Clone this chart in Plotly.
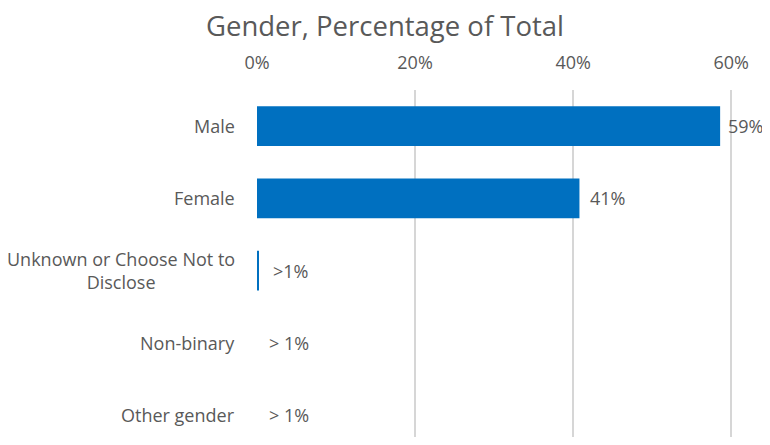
import plotly.graph_objects as go

categories = ["Male", "Female", "Unknown or Choose Not to<br>Disclose", "Non-binary", "Other gender"]
values = [58.6, 40.8, 0.2, 0.0, 0.0]
value_labels = ["59%", "41%", ">1%", "> 1%", "> 1%"]
tick_vals = [0, 20, 40, 60]
tick_text = ["0%", "20%", "40%", "60%"]

FONT = "Open Sans, Segoe UI, sans-serif"
GREY = "#595959"

fig = go.Figure()
fig.add_trace(go.Bar(
    y=list(range(len(categories))),
    x=values,
    orientation="h",
    marker=dict(color="#0070C0", line=dict(width=0)),
    width=0.55,
    hoverinfo="skip",
))

annotations = []
for i, (v, lab) in enumerate(zip(values, value_labels)):
    shift = 6 if v > 50 else (9 if v > 1 else (12 if v > 0 else 10))
    annotations.append(dict(x=v, y=i, xref="x", yref="y", text=lab, showarrow=False,
                            xanchor="left", xshift=shift,
                            font=dict(family=FONT, size=18, color=GREY)))
for i, c in enumerate(categories):
    annotations.append(dict(x=-0.04, y=i, xref="paper", yref="y", text=c, showarrow=False,
                            xanchor="right", align="center",
                            font=dict(family=FONT, size=18, color=GREY)))

W, H = 754, 429
fig.update_layout(
    width=W, height=H,
    margin=dict(l=249, r=15, t=82, b=0, autoexpand=False),
    paper_bgcolor="white", plot_bgcolor="white",
    showlegend=False,
    title=dict(text="Gender, Percentage of Total", x=377 / W, xref="container", xanchor="center",
               y=1 - 18 / H, yref="container", yanchor="middle",
               font=dict(family=FONT, size=27.5, color=GREY)),
    xaxis=dict(side="top", range=[0, 62], tickvals=tick_vals, ticktext=tick_text,
               showgrid=True, gridcolor="#d6d6d6", gridwidth=1.5, zeroline=False,
               showline=False, ticks="", ticklabelstandoff=16,
               tickfont=dict(family=FONT, size=18, color=GREY)),
    yaxis=dict(range=[4.30, -0.5], showticklabels=False, showgrid=False, zeroline=False,
               showline=False),
    annotations=annotations,
)

fig.write_html("out.html")
